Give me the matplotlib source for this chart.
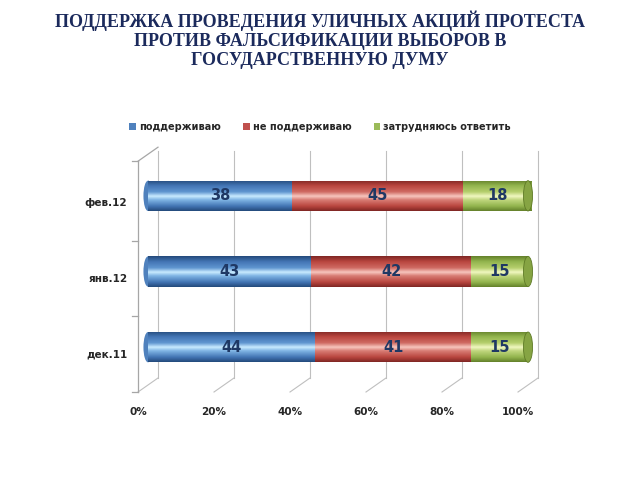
import matplotlib
matplotlib.use("Agg")
import matplotlib.pyplot as plt
import matplotlib.transforms as mtransforms
from matplotlib.colors import LinearSegmentedColormap
from matplotlib.patches import Ellipse, Patch
import numpy as np

# data
periods = ["дек.11", "янв.12", "фев.12"]
support = [44, 43, 38]
oppose = [41, 42, 45]
unsure = [15, 15, 18]
series_names = ["поддерживаю", "не поддерживаю", "затрудняюсь ответить"]
tick_labels = ["0%", "20%", "40%", "60%", "80%", "100%"]

TITLE = ("ПОДДЕРЖКА ПРОВЕДЕНИЯ УЛИЧНЫХ АКЦИЙ ПРОТЕСТА\n"
         "ПРОТИВ ФАЛЬСИФИКАЦИИ ВЫБОРОВ В\n"
         "ГОСУДАРСТВЕННУЮ ДУМУ")

FLAT = ["#4F81BD", "#C0504D", "#9BBB59"]
SHADES = [
    ["#23497A", "#4375B4", "#5F95D0", "#C9EBFF", "#7FB4E4", "#4375B4", "#23497A"],
    ["#7E2623", "#B9463F", "#CF6A62", "#F7C6BE", "#D87C74", "#B9463F", "#7E2623"],
    ["#63802A", "#93B54E", "#B5CE6C", "#F0F7C0", "#C0D67E", "#93B54E", "#63802A"],
]
STOPS = [0.0, 0.18, 0.38, 0.52, 0.64, 0.84, 1.0]
NAVY = "#1F3864"
GRID = "#BFBFBF"
AXIS = "#A6A6A6"

fig = plt.figure(figsize=(6.4, 4.8), dpi=100)
ax = fig.add_axes([148 / 640, 1 - 385 / 480, 380 / 640, 227 / 480])
ax.set_axis_off()

front = mtransforms.offset_copy(ax.transData, fig=fig, x=-10, y=-7, units="dots")
back = mtransforms.offset_copy(ax.transData, fig=fig, x=10, y=7, units="dots")

y = np.arange(len(periods))
ticks = np.arange(0, 101, 20)
dx, dy = 10 / 3.8, 7 / 75.5  # half depth in data units

# back wall gridlines and floor depth lines
for t in ticks:
    ax.plot([t, t], [-0.5, 2.5], color=GRID, lw=0.8, transform=back,
            zorder=1, clip_on=False)
    ax.plot([t - dx, t + dx], [-0.5 - dy, -0.5 + dy], color=GRID, lw=0.8,
            zorder=1, clip_on=False)

# left front axis with ticks
ax.plot([0, 0], [-0.5, 2.55], color=AXIS, lw=0.9, transform=front, zorder=1,
        clip_on=False)
for yt in [-0.5, 0.5, 1.5, 2.55]:
    ax.plot([-1.5, 0], [yt, yt], color=AXIS, lw=0.9, transform=front, zorder=1,
            clip_on=False)
ax.plot([0, 2 * dx], [2.55, 2.55 + 2 * dy], color=AXIS, lw=0.9,
        transform=front, zorder=1, clip_on=False)

h = 0.4
grad = np.linspace(0, 1, 256).reshape(-1, 1)
cmaps = [LinearSegmentedColormap.from_list(f"c{i}", list(zip(STOPS, s)))
         for i, s in enumerate(SHADES)]

# rounded left end of the cylinders
for yy in y:
    e = Ellipse((0, yy), 2.4, h, facecolor=FLAT[0], zorder=2, clip_on=False)
    ax.add_patch(e)
    im = ax.imshow(grad, cmap=cmaps[0], aspect="auto", origin="upper",
                   extent=(-1.3, 1.3, yy - h / 2, yy + h / 2), zorder=2)
    im.set_clip_path(e)

left = np.zeros(len(periods))
for i, vals in enumerate([support, oppose, unsure]):
    bars = ax.barh(y, vals, height=h, left=left, color=FLAT[i], zorder=3,
                   label=series_names[i])
    for b in bars:
        x0, y0 = b.get_x(), b.get_y()
        im = ax.imshow(grad, cmap=cmaps[i], aspect="auto", origin="upper",
                       extent=(x0, x0 + b.get_width(), y0, y0 + b.get_height()),
                       zorder=4)
        im.set_clip_path(b)
    for yy, v, l in zip(y, vals, left):
        ax.text(l + v / 2, yy, str(v), ha="center", va="center", fontsize=10.5,
                fontweight="bold", color=NAVY, zorder=6)
    left = left + np.array(vals)

# cylinder end caps
for yy in y:
    ax.add_patch(Ellipse((100, yy), 2.4, h, facecolor="#86A443",
                         edgecolor="#5E7A26", lw=0.6, zorder=5, clip_on=False))

ax.set_xlim(0, 100)
ax.set_ylim(-0.5, 2.5)

# labels on the front plane
for t, lab in zip(ticks, tick_labels):
    ax.text(t, -0.5 - 20 / 75.5, lab, ha="center", va="center", fontsize=7.5,
            fontweight="bold", color="#262626", transform=front)
for yy, lab in zip(y, periods):
    ax.text(-2.8, yy, lab, ha="right", va="center", fontsize=7.5,
            fontweight="bold", color="#262626", transform=front)

handles = [Patch(facecolor=c, edgecolor="none") for c in FLAT]
fig.legend(handles, series_names, loc="center", bbox_to_anchor=(0.5, 1 - 127 / 480),
           ncol=3, frameon=False, handlelength=0.7, handleheight=0.7,
           handletextpad=0.3, columnspacing=2.3,
           prop={"size": 7, "weight": "bold"}, labelcolor="#262626")

fig.text(0.5, 1 - 40 / 480, TITLE, ha="center", va="center",
         fontsize=13, fontweight="bold", color="#1B2A5C",
         family=["Liberation Serif", "DejaVu Serif"], linespacing=1.15)

fig.savefig("out.png", dpi=100)
